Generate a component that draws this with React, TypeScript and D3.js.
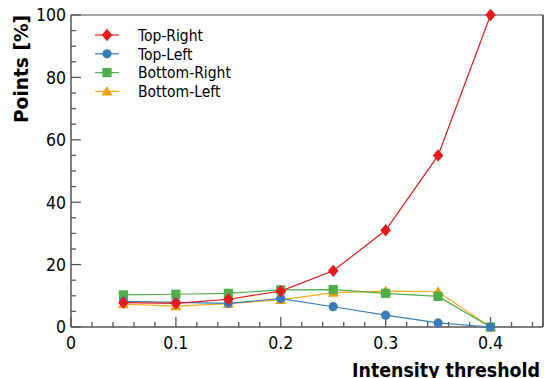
import React from "react";
import * as d3 from "d3";

const thresholds = [0.05, 0.1, 0.15, 0.2, 0.25, 0.3, 0.35, 0.4];
const topRight = [7.8, 7.6, 8.9, 11.5, 18.0, 31.0, 55.0, 100.0];
const topLeft = [8.2, 7.9, 7.6, 9.1, 6.5, 3.8, 1.3, 0.0];
const bottomRight = [10.3, 10.5, 10.8, 11.9, 12.0, 10.8, 9.8, 0.0];
const bottomLeft = [7.3, 6.7, 7.5, 8.7, 11.0, 11.5, 11.3, 0.0];

const xTicks = [0, 0.1, 0.2, 0.3, 0.4];
const yTicks = [0, 20, 40, 60, 80, 100];

type Series = { name: string; values: number[]; line: string; fill: string; marker: "diamond" | "circle" | "square" | "triangle" };

// drawing order: last one ends up on top
const series: Series[] = [
  { name: "Bottom-Left", values: bottomLeft, line: "#ffab19", fill: "#f0a000", marker: "triangle" },
  { name: "Bottom-Right", values: bottomRight, line: "#4daf4a", fill: "#4daf4a", marker: "square" },
  { name: "Top-Left", values: topLeft, line: "#377eb8", fill: "#377eb8", marker: "circle" },
  { name: "Top-Right", values: topRight, line: "#e41a1c", fill: "#e41a1c", marker: "diamond" },
];
const legendOrder = ["Top-Right", "Top-Left", "Bottom-Right", "Bottom-Left"];

const W = 544;
const H = 378;
const left = 71;
const right = 543;
const top = 15;
const bottom = 327;

const tickFont = "'DejaVu Sans Condensed', 'DejaVu Sans', sans-serif";
const titleFont = "'DejaVu Sans Condensed', 'DejaVu Sans', sans-serif";

function Marker({ kind, x, y, color }: { kind: Series["marker"]; x: number; y: number; color: string }) {
  if (kind === "diamond") {
    const r = 6.2;
    return <path d={`M${x},${y - r}L${x + r * 0.85},${y}L${x},${y + r}L${x - r * 0.85},${y}Z`} fill={color} />;
  }
  if (kind === "circle") return <circle cx={x} cy={y} r={4.6} fill={color} />;
  if (kind === "square") return <rect x={x - 4.6} y={y - 4.6} width={9.2} height={9.2} fill={color} />;
  const r = 5.5;
  return <path d={`M${x},${y - r}L${x + r},${y + r * 0.75}L${x - r},${y + r * 0.75}Z`} fill={color} />;
}

export default function App() {
  const x = d3.scaleLinear().domain([0, 0.45]).range([left, right]);
  const y = d3.scaleLinear().domain([0, 100]).range([bottom, top]);
  const line = d3
    .line<number>()
    .x((_, i) => x(thresholds[i]))
    .y((d) => y(d));

  const xMinor = d3.range(0, 0.4501, 0.02).filter((v) => xTicks.every((t) => Math.abs(t - v) > 1e-6));
  const yMinor = d3.range(0, 100.01, 5).filter((v) => v % 20 !== 0);

  return (
    <div style={{ position: "fixed", left: 0, top: 0 }}>
      <svg width={W} height={H} style={{ display: "block", background: "#fff" }}>
        {/* frame */}
        <line x1={left} x2={right} y1={top} y2={top} stroke="#888" strokeWidth={1.5} />
        <line x1={right} x2={right} y1={top} y2={bottom} stroke="#333" strokeWidth={1.5} />

        {/* x axis */}
        <line x1={left} x2={right} y1={bottom} y2={bottom} stroke="#555" strokeWidth={1.5} />
        {xTicks.map((t) => (
          <g key={`xt${t}`}>
            <line x1={x(t)} x2={x(t)} y1={bottom} y2={bottom - 10} stroke="#555" strokeWidth={1.3} />
            <text x={x(t)} y={348.5} textAnchor="middle" fontFamily={tickFont} fontSize={17.5} fill="#000">
              {t === 0 ? "0" : d3.format(".1f")(t)}
            </text>
          </g>
        ))}
        {xMinor.map((t) => (
          <line key={`xm${t}`} x1={x(t)} x2={x(t)} y1={bottom} y2={bottom - 5} stroke="#555" strokeWidth={1.3} />
        ))}

        {/* y axis */}
        <line x1={left} x2={left} y1={top} y2={bottom} stroke="#555" strokeWidth={1.5} />
        {yTicks.map((t) => (
          <g key={`yt${t}`}>
            <line x1={left} x2={left + 10} y1={y(t)} y2={y(t)} stroke="#555" strokeWidth={1.3} />
            <text x={66} y={y(t) + 6.3} textAnchor="end" fontFamily={tickFont} fontSize={17.5} fill="#000">
              {t}
            </text>
          </g>
        ))}
        {yMinor.map((t) => (
          <line key={`ym${t}`} x1={left} x2={left + 5} y1={y(t)} y2={y(t)} stroke="#555" strokeWidth={1.3} />
        ))}

        {/* titles */}
        <text
          x={540}
          y={376.5}
          textAnchor="end"
          fontFamily={titleFont}
          fontWeight="bold"
          fontSize={20}
          textLength={188}
          lengthAdjust="spacingAndGlyphs"
          fill="#000"
        >
          Intensity threshold
        </text>
        <text
          transform="translate(28,15) rotate(-90)"
          textAnchor="end"
          fontFamily={titleFont}
          fontWeight="bold"
          fontSize={19.5}
          textLength={108}
          lengthAdjust="spacingAndGlyphs"
          fill="#000"
        >
          Points [%]
        </text>

        {/* series */}
        {series.map((s) => (
          <g key={s.name}>
            <path d={line(s.values) ?? ""} fill="none" stroke={s.line} strokeWidth={1.2} />
            {s.values.map((v, i) => (
              <Marker key={i} kind={s.marker} x={x(thresholds[i])} y={y(v)} color={s.fill} />
            ))}
          </g>
        ))}

        {/* legend */}
        {legendOrder.map((name, i) => {
          const s = series.find((d) => d.name === name)!;
          const ly = 35 + i * 18.8;
          return (
            <g key={`lg${name}`}>
              <line x1={95} x2={119} y1={ly} y2={ly} stroke={s.line} strokeWidth={1.2} />
              <Marker kind={s.marker} x={107} y={ly} color={s.fill} />
              <text x={138} y={ly + 5.8} fontFamily={tickFont} fontSize={15.5} fill="#000">
                {name}
              </text>
            </g>
          );
        })}
      </svg>
    </div>
  );
}
